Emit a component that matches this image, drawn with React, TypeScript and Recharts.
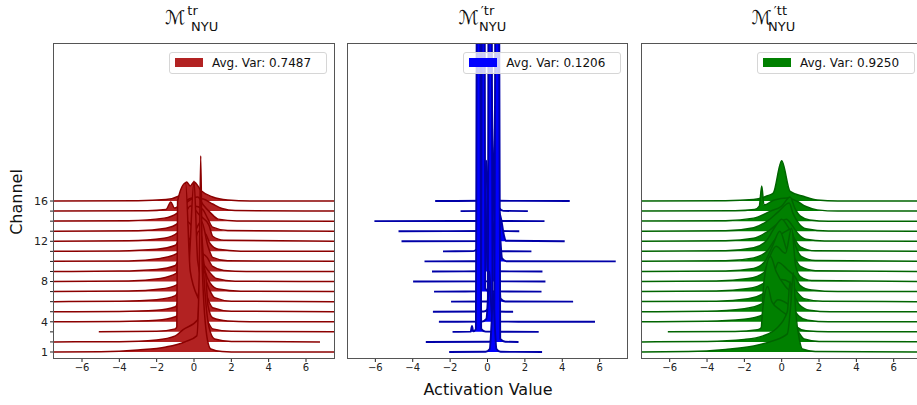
import React from "react";
import { Area, ComposedChart, XAxis, YAxis } from "recharts";

type Pt = [number, number];

const channels = [1, 2, 3, 4, 5, 6, 7, 8, 9, 10, 11, 12, 13, 14, 15, 16];
const yTickLabels = [1, 4, 8, 12, 16];
const xTicks = [-6, -4, -2, 0, 2, 4, 6];
const avgVars = [0.7487, 0.1206, 0.925];

// ridge profiles: [activation, height above the channel baseline]
const redRidges: Pt[][] = [
  [[-8, 0], [-5, 0.03], [-3, 0.2], [-1.5, 0.5], [-0.5, 1.0], [0.15, 1.6], [0.28, 8], [0.36, 19.5], [0.45, 8], [0.72, 1.2], [0.9, 0.3], [1.5, 0.05], [2.5, 0], [8, 0]],
  [[-8, 0], [-4, 0.03], [-2, 0.2], [-1, 0.6], [-0.6, 1.2], [0.2, 2.2], [0.42, 10.5], [0.55, 6], [0.8, 1.5], [1.1, 0.3], [2, 0.05], [6.75, 0]],
  [[-5.1, 0], [-2, 0.05], [-1.0, 0.3], [-0.92, 0.5], [-0.88, 13], [-0.45, 14.8], [-0.2, 6], [0.3, 3], [0.7, 1.2], [1.0, 0.3], [2, 0.05], [8, 0]],
  [[-8, 0], [-4, 0.03], [-2, 0.15], [-1, 0.5], [-0.75, 0.9], [-0.3, 1.4], [0.1, 2], [0.6, 5], [0.75, 1.6], [1, 0.4], [1.8, 0.08], [3, 0], [8, 0]],
  [[-8, 0], [-4, 0.03], [-2, 0.15], [-1, 0.5], [-0.8, 1.2], [-0.3, 4], [0.0, 13], [0.2, 5], [0.7, 1.5], [1, 0.4], [2, 0.05], [8, 0]],
  [[-8, 0], [-4, 0.05], [-2, 0.2], [-1, 0.6], [-0.78, 1.3], [-0.5, 2.5], [0.05, 3.5], [0.5, 2.8], [0.8, 1.3], [1.1, 0.4], [2, 0.05], [8, 0]],
  [[-8, 0], [-3.5, 0.05], [-1.8, 0.25], [-0.9, 0.7], [-0.7, 1.5], [-0.25, 2.2], [0.25, 6], [0.6, 2], [0.85, 0.9], [1.3, 0.25], [2.5, 0.03], [8, 0]],
  [[-8, 0], [-3.5, 0.05], [-1.8, 0.3], [-0.95, 0.8], [-0.8, 3], [-0.5, 8], [-0.2, 3], [0.4, 2], [0.8, 1.0], [1.2, 0.3], [2.2, 0.04], [8, 0]],
  [[-8, 0], [-4, 0.04], [-2, 0.2], [-1, 0.6], [-0.8, 1.3], [-0.1, 2.8], [0.3, 2], [0.7, 1.4], [1.0, 0.5], [1.6, 0.1], [2.8, 0], [8, 0]],
  [[-8, 0], [-3.5, 0.05], [-1.8, 0.3], [-0.9, 0.8], [-0.6, 1.6], [-0.05, 2.6], [0.4, 4], [0.75, 1.5], [1.0, 0.4], [1.8, 0.06], [8, 0]],
  [[-8, 0], [-4, 0.04], [-2, 0.2], [-1, 0.6], [-0.75, 1.5], [-0.4, 3], [0.05, 2.2], [0.6, 1.8], [0.85, 0.8], [1.3, 0.2], [2.5, 0.02], [8, 0]],
  [[-8, 0], [-3.5, 0.05], [-1.6, 0.3], [-0.85, 0.9], [-0.6, 2], [-0.2, 3.5], [0.3, 2.6], [0.8, 1.6], [1.0, 0.5], [1.6, 0.1], [8, 0]],
  [[-8, 0], [-3, 0.05], [-1.5, 0.3], [-0.85, 0.8], [-0.5, 1.8], [0.0, 2.5], [0.45, 2.2], [0.75, 1.2], [1.0, 0.4], [1.8, 0.06], [8, 0]],
  [[-8, 0], [-3.5, 0.05], [-1.6, 0.3], [-0.9, 0.8], [-0.3, 2], [0.2, 2.4], [0.5, 1.6], [0.9, 0.8], [1.3, 0.2], [2.3, 0.02], [8, 0]],
  [[-8, 0], [-2.5, 0.03], [-1.5, 0.15], [-1.24, 0.9], [-1.05, 0.3], [-0.6, 0.8], [-0.1, 1.3], [0.5, 1.2], [1.0, 0.7], [1.5, 0.25], [2.2, 0.05], [8, 0]],
  [[-8, 0], [-3, 0.03], [-1.5, 0.15], [-0.8, 0.5], [-0.4, 1.9], [-0.2, 1.5], [0.0, 1.9], [0.4, 1.0], [1.0, 0.4], [1.8, 0.1], [3, 0], [8, 0]],
];

const blueRidges: Pt[][] = [
  [[-2.05, 0], [-0.1, 0.02], [0.12, 0.3], [0.22, 3], [0.3, 6], [0.38, 3], [0.48, 0.3], [0.7, 0.02], [2.92, 0]],
  [[-3.3, 0], [0.1, 0.02], [0.36, 0.3], [0.41, 30], [0.46, 42], [0.52, 44], [0.58, 42], [0.63, 30], [0.68, 0.3], [0.95, 0.02], [1.66, 0]],
  [[-1.87, 0], [-0.9, 0.02], [-0.83, 0.6], [-0.76, 0.05], [-0.62, 0.3], [-0.58, 30], [-0.53, 42], [-0.48, 44], [-0.43, 42], [-0.38, 30], [-0.34, 0.3], [-0.1, 0.02], [2.74, 0]],
  [[-2.6, 0], [-0.3, 0.02], [-0.06, 0.3], [0.03, 2.5], [0.1, 5], [0.17, 2.5], [0.26, 0.3], [0.5, 0.02], [5.75, 0]],
  [[-2.92, 0], [-0.2, 0.02], [0.02, 0.3], [0.05, 30], [0.1, 42], [0.14, 44], [0.18, 42], [0.23, 30], [0.27, 0.3], [0.5, 0.02], [1.37, 0]],
  [[-1.95, 0], [0.15, 0.02], [0.4, 0.3], [0.48, 4], [0.55, 8], [0.62, 4], [0.7, 0.3], [0.95, 0.02], [4.58, 0]],
  [[-2.86, 0], [-0.5, 0.02], [-0.34, 0.3], [-0.31, 30], [-0.27, 42], [-0.23, 44], [-0.19, 42], [-0.15, 30], [-0.12, 0.3], [0.1, 0.02], [2.89, 0]],
  [[-3.98, 0], [-0.05, 0.02], [0.17, 0.3], [0.27, 3], [0.35, 6], [0.43, 3], [0.53, 0.3], [0.75, 0.02], [3.1, 0]],
  [[-2.97, 0], [-0.35, 0.02], [-0.12, 0.3], [-0.03, 5], [0.04, 10], [0.11, 5], [0.2, 0.3], [0.45, 0.02], [2.94, 0]],
  [[-3.37, 0], [0.2, 0.02], [0.42, 0.3], [0.52, 2.5], [0.6, 5], [0.68, 2.5], [0.78, 0.3], [1.0, 0.02], [6.86, 0]],
  [[-2.38, 0], [-0.75, 0.02], [-0.53, 0.3], [-0.43, 3.5], [-0.36, 7], [-0.29, 3.5], [-0.19, 0.3], [0.05, 0.02], [2.35, 0]],
  [[-4.6, 0], [0.2, 0.02], [0.42, 0.4], [0.52, 2], [0.6, 3], [0.75, 2], [0.88, 0.6], [0.98, 0.05], [4.13, 0]],
  [[-4.76, 0], [-0.15, 0.02], [0.08, 0.3], [0.17, 4.5], [0.24, 9], [0.31, 4.5], [0.4, 0.3], [0.65, 0.02], [1.7, 0]],
  [[-6.05, 0], [-0.45, 0.02], [-0.22, 0.3], [-0.13, 3], [-0.06, 6], [0.01, 3], [0.1, 0.3], [0.35, 0.02], [3.05, 0]],
  [[-1.44, 0], [0.05, 0.02], [0.27, 0.3], [0.37, 2], [0.45, 4], [0.53, 2], [0.63, 0.3], [0.85, 0.02], [2.16, 0]],
  [[-2.8, 0], [-0.2, 0.02], [0.03, 0.3], [0.12, 6], [0.2, 12], [0.28, 6], [0.37, 0.3], [0.6, 0.02], [4.4, 0]],
];

const greenRidges: Pt[][] = [
  [[-8, 0], [-5, 0.04], [-3, 0.25], [-1.5, 0.6], [-0.5, 1.1], [0.3, 1.8], [0.5, 5], [0.62, 7.9], [0.75, 4], [0.95, 1.2], [1.1, 0.3], [1.8, 0.05], [8, 0]],
  [[-8, 0], [-4, 0.05], [-2, 0.25], [-1, 0.6], [-0.3, 1.3], [0.3, 3], [0.45, 6], [0.6, 2], [0.9, 1], [1.2, 0.3], [2, 0.05], [8, 0]],
  [[-6.1, 0], [-2.5, 0.04], [-1.3, 0.2], [-1.1, 0.4], [-1.03, 2], [-0.75, 4.5], [-0.53, 3], [-0.1, 2.2], [0.5, 1.3], [0.8, 0.5], [1.3, 0.1], [2.5, 0], [8, 0]],
  [[-8, 0], [-4, 0.05], [-2, 0.25], [-1, 0.7], [-0.6, 1.3], [-0.2, 2.2], [0.3, 1.8], [0.6, 1.3], [0.9, 0.6], [1.4, 0.15], [2.5, 0], [8, 0]],
  [[-8, 0], [-4, 0.05], [-2, 0.3], [-1.05, 0.8], [-0.95, 3], [-0.6, 5.5], [-0.3, 4], [0.2, 2.5], [0.6, 1.8], [0.95, 0.7], [1.5, 0.15], [2.6, 0], [8, 0]],
  [[-8, 0], [-3.5, 0.05], [-1.8, 0.3], [-1, 0.8], [-0.5, 1.6], [0.0, 2.2], [0.44, 1.9], [0.8, 1.0], [1.2, 0.3], [2.2, 0.03], [8, 0]],
  [[-8, 0], [-3.5, 0.05], [-1.8, 0.3], [-0.9, 0.9], [-0.4, 2], [-0.18, 2.9], [0.3, 2.2], [0.7, 1.5], [1.0, 0.6], [1.6, 0.15], [3, 0], [8, 0]],
  [[-8, 0], [-3.5, 0.05], [-1.8, 0.3], [-0.95, 0.9], [-0.7, 2.2], [-0.3, 3.5], [0.2, 2.8], [0.53, 5.3], [0.75, 1.5], [1.0, 0.5], [1.6, 0.1], [8, 0]],
  [[-8, 0], [-3, 0.05], [-1.5, 0.3], [-0.9, 1], [-0.5, 2.5], [-0.1, 4], [0.3, 2], [0.7, 1.3], [1.0, 0.5], [1.8, 0.08], [8, 0]],
  [[-8, 0], [-3, 0.06], [-1.5, 0.35], [-0.8, 1], [-0.35, 2.2], [0.05, 2.8], [0.5, 3.2], [0.75, 1.5], [1.05, 0.5], [1.8, 0.08], [8, 0]],
  [[-8, 0], [-3, 0.06], [-1.5, 0.35], [-0.8, 1.1], [-0.3, 2.6], [0.0, 3.2], [0.35, 2.4], [0.7, 1.2], [1.0, 0.45], [1.8, 0.05], [8, 0]],
  [[-8, 0], [-3, 0.05], [-1.5, 0.3], [-0.8, 0.9], [-0.1, 1.9], [0.25, 2.2], [0.55, 1.6], [0.9, 0.7], [1.3, 0.2], [2.3, 0.02], [8, 0]],
  [[-8, 0], [-3, 0.05], [-1.5, 0.35], [-0.7, 1.1], [-0.2, 1.9], [0.4, 2.8], [0.6, 1.8], [0.9, 0.8], [1.3, 0.25], [2.5, 0.02], [8, 0]],
  [[-8, 0], [-3, 0.05], [-1.5, 0.3], [-0.6, 1.0], [0.0, 1.5], [0.45, 2.4], [0.7, 1.3], [1.0, 0.5], [1.5, 0.12], [2.5, 0], [8, 0]],
  [[-8, 0], [-2.5, 0.03], [-1.45, 0.15], [-1.2, 0.5], [-1.07, 2.5], [-0.95, 0.6], [-0.4, 1.1], [0.3, 1.3], [0.8, 1.0], [1.3, 0.45], [1.9, 0.12], [3, 0], [8, 0]],
  [[-8, 0], [-3, 0.03], [-1.5, 0.15], [-0.8, 0.5], [-0.45, 0.8], [0.0, 4.0], [0.45, 0.95], [1.2, 0.45], [1.9, 0.1], [3, 0], [8, 0]],
];

const fmtMinus = (v: number) => (v < 0 ? `\u2212${-v}` : `${v}`);

const PLOT_TOP = 44;
const PLOT_BOTTOM = 358;
const CHART_H = 405;

interface PanelProps {
  ridges: Pt[][];
  fill: string;
  stroke: string;
  strokeWidth: number;
  showY: boolean;
  left: number;
  width: number;
  plotLeft: number;
  plotRight: number;
}

function RidgePanel({ ridges, fill, stroke, strokeWidth, showY, left, width, plotLeft, plotRight }: PanelProps) {
  const yw = 54;
  const margin = {
    top: PLOT_TOP,
    right: left + width - plotRight,
    bottom: CHART_H - PLOT_BOTTOM - 30,
    left: showY ? plotLeft - left - yw : plotLeft - left,
  };
  // back ridges first, so the lower channels sit in front
  const order = [...channels].reverse();
  return (
    <div style={{ position: "absolute", left, top: 0 }}>
      <ComposedChart width={width} height={CHART_H} margin={margin}>
        <XAxis
          type="number"
          dataKey="x"
          domain={[-7.5, 7.5]}
          allowDataOverflow
          ticks={xTicks}
          interval={0}
          tickFormatter={fmtMinus}
          height={30}
          tickSize={4}
          axisLine={false}
          tickLine={{ stroke: "#222" }}
          tick={{ fontSize: 10, fill: "#222" }}
        />
        <YAxis
          type="number"
          dataKey="y"
          domain={[0.404, 31.6]}
          allowDataOverflow
          ticks={channels}
          interval={0}
          hide={!showY}
          width={yw}
          tickSize={4}
          axisLine={false}
          tickLine={{ stroke: "#222" }}
          tick={{ fontSize: 11, fill: "#222" }}
          tickFormatter={(v: number) => (yTickLabels.includes(v) ? `${v}` : "")}
        />
        {order.map((ch) => (
          <Area
            key={ch}
            data={ridges[ch - 1].map(([x, h]) => ({ x, y: ch + h }))}
            dataKey="y"
            type="monotone"
            baseValue={ch}
            fill={fill}
            fillOpacity={1}
            stroke={stroke}
            strokeWidth={strokeWidth}
            dot={false}
            activeDot={false}
            isAnimationActive={false}
          />
        ))}
      </ComposedChart>
    </div>
  );
}

const panels = [
  { ridges: redRidges, fill: "#b22222", stroke: "#8b0000", strokeWidth: 1.5, legend: "#b22222", showY: true, left: 0, width: 340, plotLeft: 54, plotRight: 334, legendLeft: 169 },
  { ridges: blueRidges, fill: "#0000ff", stroke: "#0000a8", strokeWidth: 1.9, legend: "#0000ff", showY: false, left: 300, width: 340, plotLeft: 347.3, plotRight: 627.7, legendLeft: 463.3 },
  { ridges: greenRidges, fill: "#008000", stroke: "#006400", strokeWidth: 1.5, legend: "#008000", showY: false, left: 600, width: 330, plotLeft: 641.7, plotRight: 921.7, legendLeft: 757 },
];

const titles = [
  { m: 165, sup: "tr", subX: 191 },
  { m: 458.5, sup: "\u2032tr", subX: 479 },
  { m: 751.5, sup: "\u2032tt", subX: 768 },
];

export default function App() {
  return (
    <div
      style={{
        position: "absolute",
        left: 0,
        top: 0,
        width: 917,
        height: 405,
        overflow: "hidden",
        background: "#fff",
        fontFamily: "'DejaVu Sans', sans-serif",
      }}
    >
      {panels.map((p, i) => (
        <RidgePanel key={i} {...p} />
      ))}
      {panels.map((p, i) => (
        <div
          key={`f${i}`}
          style={{
            position: "absolute",
            left: p.plotLeft - 0.7,
            top: PLOT_TOP - 0.7,
            width: p.plotRight - p.plotLeft + 1.4,
            height: PLOT_BOTTOM - PLOT_TOP + 1.4,
            border: "1.4px solid #555",
            boxSizing: "border-box",
            pointerEvents: "none",
          }}
        />
      ))}
      {panels.map((p, i) => (
        <div
          key={`l${i}`}
          style={{
            position: "absolute",
            left: p.legendLeft,
            top: 51.7,
            width: 158,
            height: 22.3,
            boxSizing: "border-box",
            border: "1px solid #d6d6d6",
            borderRadius: 3,
            background: "rgba(255,255,255,0.8)",
            display: "flex",
            alignItems: "center",
          }}
        >
          <div style={{ width: 28, height: 9, background: p.legend, marginLeft: 4.5, marginRight: 9.5 }} />
          <span style={{ fontSize: 12, color: "#111", whiteSpace: "nowrap" }}>
            Avg. Var: {avgVars[i].toFixed(4)}
          </span>
        </div>
      ))}
      <svg width={917} height={405} style={{ position: "absolute", left: 0, top: 0, pointerEvents: "none" }}>
        {titles.map((t, i) => (
          <text key={i} x={t.m} y={24} fill="#111" fontSize={13}>
            <tspan fontSize={19} fontFamily="'DejaVu Serif', 'DejaVu Sans', serif">
              {"\u2133"}
            </tspan>
            <tspan dx={2} dy={-9}>
              {t.sup}
            </tspan>
            <tspan x={t.subX} dy={16}>
              NYU
            </tspan>
          </text>
        ))}
        <text x={22} y={202} fontSize={16} textAnchor="middle" fill="#111" transform="rotate(-90 22 202)">
          Channel
        </text>
        <text x={488} y={395} fontSize={16} textAnchor="middle" fill="#111">
          Activation Value
        </text>
      </svg>
    </div>
  );
}
